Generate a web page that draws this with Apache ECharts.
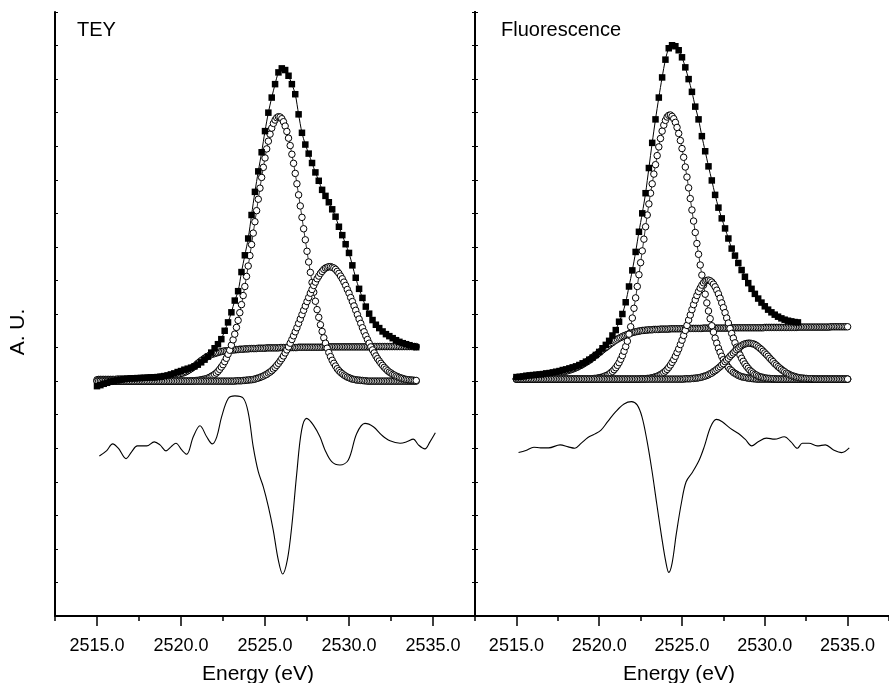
<!DOCTYPE html>
<html><head><meta charset="utf-8">
<script src="https://cdn.jsdelivr.net/npm/echarts@6/dist/echarts.min.js"></script>
<style>html,body{margin:0;padding:0;background:#fff}#c{width:889px;height:683px}</style>
</head><body><div id="c"></div><script>
// ---- energy grids (eV) ----
const energyFine = [
2515.0,2515.1,2515.2,2515.3,2515.4,2515.5,2515.6,2515.7,2515.8,2515.9,
2516.0,2516.1,2516.2,2516.3,2516.4,2516.5,2516.6,2516.7,2516.8,2516.9,
2517.0,2517.1,2517.2,2517.3,2517.4,2517.5,2517.6,2517.7,2517.8,2517.9,
2518.0,2518.1,2518.2,2518.3,2518.4,2518.5,2518.6,2518.7,2518.8,2518.9,
2519.0,2519.1,2519.2,2519.3,2519.4,2519.5,2519.6,2519.7,2519.8,2519.9,
2520.0,2520.1,2520.2,2520.3,2520.4,2520.5,2520.6,2520.7,2520.8,2520.9,
2521.0,2521.1,2521.2,2521.3,2521.4,2521.5,2521.6,2521.7,2521.8,2521.9,
2522.0,2522.1,2522.2,2522.3,2522.4,2522.5,2522.6,2522.7,2522.8,2522.9,
2523.0,2523.1,2523.2,2523.3,2523.4,2523.5,2523.6,2523.7,2523.8,2523.9,
2524.0,2524.1,2524.2,2524.3,2524.4,2524.5,2524.6,2524.7,2524.8,2524.9,
2525.0,2525.1,2525.2,2525.3,2525.4,2525.5,2525.6,2525.7,2525.8,2525.9,
2526.0,2526.1,2526.2,2526.3,2526.4,2526.5,2526.6,2526.7,2526.8,2526.9,
2527.0,2527.1,2527.2,2527.3,2527.4,2527.5,2527.6,2527.7,2527.8,2527.9,
2528.0,2528.1,2528.2,2528.3,2528.4,2528.5,2528.6,2528.7,2528.8,2528.9,
2529.0,2529.1,2529.2,2529.3,2529.4,2529.5,2529.6,2529.7,2529.8,2529.9,
2530.0,2530.1,2530.2,2530.3,2530.4,2530.5,2530.6,2530.7,2530.8,2530.9,
2531.0,2531.1,2531.2,2531.3,2531.4,2531.5,2531.6,2531.7,2531.8,2531.9,
2532.0,2532.1,2532.2,2532.3,2532.4,2532.5,2532.6,2532.7,2532.8,2532.9,
2533.0,2533.1,2533.2,2533.3,2533.4,2533.5,2533.6,2533.7,2533.8,2533.9,
2534.0,2534.1,2534.2,2534.3,2534.4,2534.5,2534.6,2534.7,2534.8,2534.9,
2535.0];
const energyCoarse = [
2515.0,2515.2,2515.4,2515.6,2515.8,2516.0,2516.2,2516.4,2516.6,2516.8,
2517.0,2517.2,2517.4,2517.6,2517.8,2518.0,2518.2,2518.4,2518.6,2518.8,
2519.0,2519.2,2519.4,2519.6,2519.8,2520.0,2520.2,2520.4,2520.6,2520.8,
2521.0,2521.2,2521.4,2521.6,2521.8,2522.0,2522.2,2522.4,2522.6,2522.8,
2523.0,2523.2,2523.4,2523.6,2523.8,2524.0,2524.2,2524.4,2524.6,2524.8,
2525.0,2525.2,2525.4,2525.6,2525.8,2526.0,2526.2,2526.4,2526.6,2526.8,
2527.0,2527.2,2527.4,2527.6,2527.8,2528.0,2528.2,2528.4,2528.6,2528.8,
2529.0,2529.2,2529.4,2529.6,2529.8,2530.0,2530.2,2530.4,2530.6,2530.8,
2531.0,2531.2,2531.4,2531.6,2531.8,2532.0,2532.2,2532.4,2532.6,2532.8,
2533.0,2533.2,2533.4,2533.6,2533.8,2534.0];

// ---- TEY panel (arbitrary units) ----
const teyData = [
6.85,6.88,6.92,6.95,6.98, 7.00,7.02,7.04,7.06,7.07,
7.08,7.08,7.09,7.09,7.10, 7.10,7.11,7.11,7.12,7.13,
7.15,7.17,7.20,7.23,7.27, 7.30,7.34,7.37,7.40,7.44,
7.49,7.56,7.64,7.73,7.85, 7.98,8.10,8.25,8.50,8.75,
9.05,9.40,9.68,10.25,10.75, 11.25,11.95,12.64,13.25,13.82,
14.45,15.00,15.45,15.85,16.20, 16.32,16.27,16.10,15.85,15.55,
14.95,14.40,14.05,13.78,13.50, 13.22,12.97,12.70,12.52,12.33,
12.12,11.90,11.60,11.35,11.08, 10.82,10.45,10.08,9.75,9.48,
9.22,9.01,8.82,8.68,8.58, 8.48,8.40,8.34,8.28,8.22,
8.17,8.13,8.10,8.07,8.04, 8.01];
const teyPeakA = [
7,7,7,7,7,7,7,7,7,7, 7,7,7,7,7,7,7,7,7,7, 7,7,7,7,7,7,7,7,7,7,
7,7,7,7,7,7,7,7,7,7, 7,7,7,7,7,7,7,7,7,7,
7,7,7,7,7,7,7.01,7.01,7.01,7.02,
7.02,7.03,7.04,7.05,7.06,7.07,7.09,7.11,7.14,7.17,
7.20,7.24,7.29,7.35,7.42,7.49,7.58,7.68,7.80,7.92,
8.07,8.23,8.40,8.60,8.81,9.04,9.28,9.55,9.82,10.12,
10.43,10.74,11.07,11.41,11.75,12.08,12.42,12.75,13.07,13.37,
13.65,13.92,14.15,14.36,14.54,14.68,14.78,14.85,14.88,14.87,
14.82,14.73,14.60,14.44,14.24,14.02,13.76,13.49,13.19,12.88,
12.55,12.22,11.88,11.54,11.21,10.87,10.55,10.24,9.94,9.65,
9.38,9.13,8.90,8.68,8.48,8.29,8.13,7.98,7.85,7.73,
7.62,7.53,7.45,7.37,7.31,7.26,7.22,7.18,7.15,7.12,
7.10,7.08,7.06,7.05,7.04,7.03,7.03,7.02,7.02,7.01,
7.01,7,7,7,7,7,7,7,7,7, 7,7,7,7,7,7,7,7,7,7, 7,7,7,7,7,7,7,7,7,7, 7];
const teyPeakB = [
7,7,7,7,7,7,7,7,7,7, 7,7,7,7,7,7,7,7,7,7, 7,7,7,7,7,7,7,7,7,7, 7,7,7,7,7,7,7,7,7,7,
7,7,7,7,7,7,7,7,7,7, 7,7,7,7,7,7,7,7,7,7, 7,7,7,7,7,7,7,7,7,7, 7,7,7,7,7,7,7,7,7,7,
7,7,7,7.01,7.01,7.01,7.01,7.02,7.02,7.03,
7.03,7.04,7.04,7.05,7.06,7.08,7.09,7.11,7.13,7.15,
7.18,7.20,7.24,7.27,7.31,7.36,7.41,7.47,7.53,7.60,
7.67,7.75,7.84,7.93,8.02,8.13,8.24,8.35,8.47,8.59,
8.72,8.85,8.98,9.11,9.24,9.37,9.49,9.62,9.73,9.85,
9.95,10.05,10.13,10.21,10.27,10.33,10.37,10.39,10.41,10.41,
10.39,10.37,10.33,10.27,10.21,10.13,10.05,9.95,9.85,9.73,
9.62,9.49,9.37,9.24,9.11,8.98,8.85,8.72,8.59,8.47,
8.35,8.24,8.13,8.02,7.93,7.84,7.75,7.67,7.60,7.53,
7.47,7.41,7.36,7.31,7.27,7.24,7.20,7.18,7.15,7.13,
7.11,7.09,7.08,7.06,7.05,7.04,7.04,7.03,7.03,7.02,
7.02];
const teyStep = [
7.04,7.05,7.05,7.05,7.05,7.05,7.05,7.05,7.05,7.05,
7.05,7.05,7.06,7.06,7.06,7.06,7.06,7.06,7.06,7.06,
7.07,7.07,7.07,7.07,7.07,7.08,7.08,7.08,7.08,7.08,
7.09,7.09,7.09,7.10,7.10,7.10,7.11,7.11,7.12,7.12,
7.13,7.13,7.14,7.15,7.15,7.16,7.17,7.18,7.20,7.21,
7.23,7.24,7.26,7.28,7.31,7.34,7.37,7.41,7.44,7.48,
7.53,7.57,7.61,7.64,7.68,7.71,7.74,7.77,7.79,7.81,
7.82,7.84,7.85,7.87,7.88,7.89,7.90,7.90,7.91,7.92,
7.92,7.93,7.93,7.94,7.94,7.95,7.95,7.95,7.96,7.96,
7.96,7.97,7.97,7.97,7.97,7.97,7.98,7.98,7.98,7.98,
7.98,7.99,7.99,7.99,7.99,7.99,7.99,7.99,7.99,8.00,
8.00,8.00,8.00,8.00,8.00,8.00,8.00,8.00,8.00,8.00,
8.01,8.01,8.01,8.01,8.01,8.01,8.01,8.01,8.01,8.01,
8.01,8.01,8.01,8.01,8.01,8.02,8.02,8.02,8.02,8.02,
8.02,8.02,8.02,8.02,8.02,8.02,8.02,8.02,8.02,8.02,
8.02,8.02,8.02,8.02,8.02,8.02,8.02,8.02,8.02,8.02,
8.02,8.02,8.02,8.02,8.02,8.03,8.03,8.03,8.03,8.03,
8.03,8.03,8.03,8.03,8.03,8.03,8.03,8.03,8.03,8.03,
8.03,8.03,8.03,8.03,8.03,8.03,8.03,8.03,8.03,8.03,
8.03];
const teyDiffE = [2515.14,2515.58,2515.93,2516.27,2516.73,2517.07,2517.40,2517.96,2518.41,2518.75,
2519.11,2519.40,2519.70,2520.04,2520.34,2520.73,2521.13,2521.53,2521.86,2522.13,
2522.42,2522.82,2523.21,2523.71,2524.01,2524.30,2524.60,2524.90,2525.20,2525.49,
2525.79,2526.05,2526.33,2526.59,2526.89,2527.18,2527.48,2527.88,2528.27,2528.57,
2528.97,2529.46,2529.96,2530.46,2530.95,2531.45,2531.95,2532.44,2533.04,2533.43,
2533.83,2534.13,2534.52,2534.82,2535.14];
const teyDiffY = [4.77,4.93,5.13,5.00,4.69,4.90,5.07,5.07,5.19,5.10,
4.92,5.04,5.15,4.95,4.82,5.34,5.67,5.34,5.13,5.34,
5.94,6.49,6.56,6.49,6.04,5.04,4.30,3.85,3.26,2.56,
1.67,1.25,1.67,2.66,4.25,5.54,5.89,5.69,5.34,4.95,
4.60,4.50,4.65,5.44,5.74,5.64,5.39,5.22,5.15,5.19,
5.27,5.10,4.98,5.19,5.46];

// ---- Fluorescence panel ----
const fluoData = [
7.12,7.13,7.14,7.16,7.17, 7.18,7.19,7.20,7.21,7.23,
7.24,7.26,7.28,7.30,7.33, 7.35,7.38,7.41,7.44,7.48,
7.53,7.58,7.64,7.70,7.78, 7.87,7.98,8.08,8.20,8.36,
8.52,8.77,9.00,9.35,9.82, 10.30,10.85,11.45,12.00,12.60,
13.35,14.10,14.80,15.45,16.05, 16.58,16.92,17.01,16.98,16.86,
16.65,16.35,16.00,15.62,15.18, 14.80,14.30,13.85,13.40,12.98,
12.55,12.17,11.85,11.55,11.25, 10.95,10.74,10.52,10.31,10.11,
9.92,9.75,9.60,9.46,9.34, 9.23,9.13,9.05,8.98,8.92,
8.87,8.83,8.80,8.78,8.76, 8.75];
const fluoPeakA = [
7.06,7.06,7.06,7.06,7.06,7.06,7.06,7.06,7.06,7.06,
7.06,7.06,7.06,7.06,7.06,7.06,7.06,7.06,7.06,7.06,
7.06,7.06,7.06,7.06,7.06,7.06,7.06,7.06,7.06,7.06,
7.06,7.06,7.06,7.06,7.06,7.06,7.06,7.06,7.06,7.06,
7.06,7.06,7.06,7.06,7.06,7.06,7.07,7.08,7.08,7.09,
7.10,7.11,7.12,7.14,7.16,7.18,7.21,7.25,7.29,7.34,
7.40,7.47,7.55,7.65,7.76,7.89,8.03,8.19,8.40,8.62,
8.88,9.17,9.48,9.82,10.17,10.53,10.88,11.23,11.60,11.95,
12.28,12.60,12.88,13.17,13.45,13.72,13.98,14.23,14.45,14.63,
14.77,14.87,14.92,14.93,14.89,14.82,14.71,14.56,14.38,14.17,
13.93,13.67,13.38,13.08,12.76,12.44,12.10,11.77,11.43,11.10,
10.78,10.46,10.16,9.86,9.59,9.33,9.09,8.86,8.65,8.46,
8.28,8.13,7.98,7.86,7.74,7.64,7.56,7.48,7.41,7.35,
7.31,7.26,7.23,7.20,7.17,7.15,7.13,7.12,7.11,7.10,
7.09,7.08,7.08,7.07,7.07,7.06,7.06,7.06,7.06,7.06,
7.06,7.06,7.06,7.06,7.06,7.06,7.06,7.06,7.06,7.06,
7.06,7.06,7.06,7.06,7.06,7.06,7.06,7.06,7.06,7.06,
7.06,7.06,7.06,7.06,7.06,7.06,7.06,7.06,7.06,7.06,
7.06,7.06,7.06,7.06,7.06,7.06,7.06,7.06,7.06,7.06,
7.06,7.06,7.06,7.06,7.06,7.06,7.06,7.06,7.06,7.06,
7.06];
const fluoPeakB = [
7.06,7.06,7.06,7.06,7.06,7.06,7.06,7.06,7.06,7.06,
7.06,7.06,7.06,7.06,7.06,7.06,7.06,7.06,7.06,7.06,
7.06,7.06,7.06,7.06,7.06,7.06,7.06,7.06,7.06,7.06,
7.06,7.06,7.06,7.06,7.06,7.06,7.06,7.06,7.06,7.06,
7.06,7.06,7.06,7.06,7.06,7.06,7.06,7.06,7.06,7.06,
7.06,7.06,7.06,7.06,7.06,7.06,7.06,7.06,7.06,7.06,
7.06,7.06,7.06,7.06,7.06,7.06,7.06,7.06,7.06,7.06,
7.06,7.06,7.06,7.06,7.06,7.07,7.07,7.07,7.07,7.08,
7.08,7.09,7.10,7.11,7.13,7.14,7.17,7.19,7.22,7.26,
7.30,7.35,7.41,7.48,7.56,7.64,7.74,7.85,7.96,8.09,
8.22,8.36,8.51,8.66,8.82,8.97,9.13,9.28,9.42,9.55,
9.67,9.77,9.86,9.93,9.98,10.00,10.01,9.99,9.95,9.89,
9.81,9.71,9.60,9.47,9.33,9.19,9.04,8.88,8.73,8.57,
8.42,8.28,8.14,8.01,7.89,7.78,7.68,7.59,7.51,7.44,
7.38,7.32,7.28,7.24,7.20,7.18,7.15,7.13,7.12,7.11,
7.09,7.09,7.08,7.08,7.07,7.07,7.07,7.06,7.06,7.06,
7.06,7.06,7.06,7.06,7.06,7.06,7.06,7.06,7.06,7.06,
7.06,7.06,7.06,7.06,7.06,7.06,7.06,7.06,7.06,7.06,
7.06,7.06,7.06,7.06,7.06,7.06,7.06,7.06,7.06,7.06,
7.06,7.06,7.06,7.06,7.06,7.06,7.06,7.06,7.06,7.06,
7.06];
const fluoPeakC = [
7.06,7.06,7.06,7.06,7.06,7.06,7.06,7.06,7.06,7.06,
7.06,7.06,7.06,7.06,7.06,7.06,7.06,7.06,7.06,7.06,
7.06,7.06,7.06,7.06,7.06,7.06,7.06,7.06,7.06,7.06,
7.06,7.06,7.06,7.06,7.06,7.06,7.06,7.06,7.06,7.06,
7.06,7.06,7.06,7.06,7.06,7.06,7.06,7.06,7.06,7.06,
7.06,7.06,7.06,7.06,7.06,7.06,7.06,7.06,7.06,7.06,
7.06,7.06,7.06,7.06,7.06,7.06,7.06,7.06,7.06,7.06,
7.06,7.06,7.06,7.06,7.06,7.06,7.06,7.06,7.06,7.06,
7.06,7.06,7.06,7.06,7.06,7.06,7.06,7.06,7.06,7.06,
7.06,7.06,7.06,7.06,7.06,7.06,7.06,7.06,7.06,7.06,
7.06,7.06,7.07,7.07,7.07,7.07,7.08,7.08,7.09,7.09,
7.10,7.11,7.12,7.14,7.15,7.17,7.19,7.22,7.24,7.28,
7.31,7.35,7.39,7.43,7.48,7.52,7.58,7.63,7.68,7.74,
7.79,7.84,7.89,7.94,7.98,8.02,8.06,8.09,8.11,8.12,
8.13,8.13,8.12,8.11,8.09,8.06,8.02,7.98,7.94,7.89,
7.84,7.79,7.74,7.68,7.63,7.58,7.52,7.48,7.43,7.39,
7.35,7.31,7.28,7.24,7.22,7.19,7.17,7.15,7.14,7.12,
7.11,7.10,7.09,7.09,7.08,7.08,7.07,7.07,7.07,7.07,
7.06,7.06,7.06,7.06,7.06,7.06,7.06,7.06,7.06,7.06,
7.06,7.06,7.06,7.06,7.06,7.06,7.06,7.06,7.06,7.06,
7.06];
const fluoStep = [
7.08,7.08,7.09,7.09,7.10,7.10,7.11,7.11,7.12,7.12,
7.13,7.14,7.14,7.15,7.16,7.16,7.17,7.18,7.18,7.19,
7.20,7.21,7.22,7.23,7.24,7.25,7.26,7.27,7.28,7.29,
7.30,7.31,7.33,7.34,7.36,7.38,7.40,7.42,7.45,7.47,
7.50,7.53,7.56,7.59,7.62,7.66,7.70,7.74,7.77,7.81,
7.85,7.89,7.93,7.97,8.00,8.04,8.08,8.12,8.15,8.19,
8.22,8.25,8.28,8.30,8.33,8.35,8.37,8.39,8.41,8.43,
8.45,8.46,8.47,8.48,8.49,8.50,8.51,8.51,8.52,8.52,
8.53,8.53,8.53,8.54,8.54,8.54,8.54,8.55,8.55,8.55,
8.55,8.55,8.55,8.56,8.56,8.56,8.56,8.56,8.56,8.56,
8.56,8.56,8.56,8.57,8.57,8.57,8.57,8.57,8.57,8.57,
8.57,8.57,8.57,8.58,8.58,8.58,8.58,8.58,8.58,8.58,
8.58,8.58,8.58,8.58,8.58,8.58,8.58,8.58,8.58,8.58,
8.59,8.59,8.59,8.59,8.59,8.59,8.59,8.59,8.59,8.59,
8.59,8.59,8.59,8.59,8.59,8.59,8.59,8.59,8.59,8.59,
8.60,8.60,8.60,8.60,8.60,8.60,8.60,8.60,8.60,8.60,
8.60,8.60,8.60,8.60,8.60,8.60,8.60,8.60,8.60,8.60,
8.61,8.61,8.61,8.61,8.61,8.61,8.61,8.61,8.61,8.61,
8.61,8.61,8.61,8.61,8.61,8.61,8.61,8.61,8.61,8.61,
8.62,8.62,8.62,8.62,8.62,8.62,8.62,8.62,8.62,8.62,
8.62];
const fluoDiffE = [2515.13,2515.57,2516.06,2516.46,2516.95,2517.64,2518.13,2518.53,2518.92,2519.32,
2519.72,2520.11,2520.51,2521.00,2521.50,2521.95,2522.29,2522.58,2522.88,2523.18,
2523.47,2523.77,2524.02,2524.20,2524.40,2524.66,2524.96,2525.25,2525.65,2526.04,
2526.34,2526.73,2527.07,2527.43,2527.92,2528.41,2528.81,2529.21,2529.60,2530.10,
2530.59,2531.18,2531.58,2531.97,2532.27,2532.67,2533.16,2533.66,2534.15,2534.64,
2535.10];
const fluoDiffY = [4.87,4.93,5.03,5.01,5.01,5.10,5.04,5.00,5.15,5.32,
5.42,5.54,5.79,6.09,6.32,6.39,6.29,5.94,5.24,4.35,
3.36,2.36,1.62,1.30,1.57,2.46,3.36,4.00,4.30,4.65,
5.04,5.64,5.86,5.79,5.59,5.44,5.27,5.07,5.19,5.30,
5.27,5.34,5.19,5.00,5.15,5.15,5.07,5.10,4.95,4.87,
5.01];

// ---- axis ticks ----
const majorTicks = [2515, 2520, 2525, 2530, 2535];
const minorTicks = [2512.5, 2517.5, 2522.5, 2527.5, 2532.5, 2537.5];
const panelTitles = ['TEY', 'Fluorescence'];
const xTitle = 'Energy (eV)';
const yTitle = 'A. U.';

function pairs(xs, ys) {
  const n = Math.min(xs.length, ys.length);
  const out = [];
  for (let i = 0; i < n; i++) out.push([xs[i], ys[i]]);
  return out;
}
const FONT = '"Liberation Sans", Arial, Helvetica, sans-serif';

function circles(ax, ys) {
  return { type: 'line', xAxisIndex: ax.x, yAxisIndex: ax.y, data: pairs(energyFine, ys),
    symbol: 'circle', symbolSize: 6.5, showSymbol: true,
    itemStyle: { color: '#fff', borderColor: '#000', borderWidth: 1 },
    lineStyle: { color: '#000', width: 0.8 }, silent: true, animation: false, z: 2 };
}
function squares(ax, ys) {
  return { type: 'line', xAxisIndex: ax.x, yAxisIndex: ax.y, data: pairs(energyCoarse, ys),
    symbol: 'rect', symbolSize: 6.5, showSymbol: true, smooth: 0.3,
    itemStyle: { color: '#000', borderWidth: 0 },
    lineStyle: { color: '#000', width: 1 }, silent: true, animation: false, z: 3 };
}
function curve(ax, xs, ys) {
  return { type: 'line', xAxisIndex: ax.x, yAxisIndex: ax.y, data: pairs(xs, ys),
    showSymbol: false, symbol: 'none', smooth: 0.35,
    lineStyle: { color: '#000', width: 1.1 }, silent: true, animation: false, z: 3 };
}
function xAxes(grid) {
  const base = { type: 'value', gridIndex: grid, min: 2512.5, max: 2537.5, position: 'bottom',
    splitLine: { show: false } };
  return [
    Object.assign({}, base, {
      axisLine: { show: true, onZero: false, lineStyle: { color: '#000', width: 2 } },
      axisTick: { show: true, length: 5, customValues: minorTicks, lineStyle: { color: '#000', width: 1.5 } },
      axisLabel: { show: false } }),
    Object.assign({}, base, {
      axisLine: { show: false, onZero: false },
      axisTick: { show: true, length: 10, customValues: majorTicks, lineStyle: { color: '#000', width: 1.5 } },
      axisLabel: { show: true, customValues: majorTicks, formatter: v => v.toFixed(1),
        fontSize: 18, fontFamily: FONT, color: '#000', margin: 21 } })
  ];
}
function yAxis(grid, pos) {
  return { type: 'value', gridIndex: grid, position: pos, min: 0, max: 18, interval: 1,
    axisLine: { show: true, lineStyle: { color: '#000', width: 2 } },
    axisTick: { show: true, inside: true, length: 3, lineStyle: { color: '#000', width: 1 } },
    axisLabel: { show: false }, splitLine: { show: false } };
}

const L = { x: 0, y: 0 }, R = { x: 2, y: 2 };
const chart = echarts.init(document.getElementById('c'), null, { renderer: 'canvas' });
chart.setOption({
  backgroundColor: '#fff',
  animation: false,
  grid: [
    { left: 55, top: 12, width: 420, height: 604 },
    { left: 475, top: 12, width: 421.5, height: 604 }
  ],
  xAxis: [].concat(xAxes(0), xAxes(1)),
  yAxis: [yAxis(0, 'left'), yAxis(0, 'right'), yAxis(1, 'left')],
  series: [
    circles(L, teyStep), circles(L, teyPeakA), circles(L, teyPeakB),
    squares(L, teyData), curve(L, teyDiffE, teyDiffY),
    circles(R, fluoStep), circles(R, fluoPeakA), circles(R, fluoPeakB), circles(R, fluoPeakC),
    squares(R, fluoData), curve(R, fluoDiffE, fluoDiffY)
  ],
  graphic: [
    { type: 'text', x: 77, y: 30, style: { text: panelTitles[0], font: '20px ' + FONT, fill: '#000', textAlign: 'left', textVerticalAlign: 'middle' } },
    { type: 'text', x: 501, y: 30, style: { text: panelTitles[1], font: '20px ' + FONT, fill: '#000', textAlign: 'left', textVerticalAlign: 'middle' } },
    { type: 'text', x: 258, y: 674, style: { text: xTitle, font: '21px ' + FONT, fill: '#000', textAlign: 'center', textVerticalAlign: 'middle' } },
    { type: 'text', x: 679, y: 674, style: { text: xTitle, font: '21px ' + FONT, fill: '#000', textAlign: 'center', textVerticalAlign: 'middle' } },
    { type: 'text', x: 18, y: 332, rotation: Math.PI / 2, style: { text: yTitle, font: '21px ' + FONT, fill: '#000', textAlign: 'center', textVerticalAlign: 'middle' } }
  ]
});
</script></body></html>
